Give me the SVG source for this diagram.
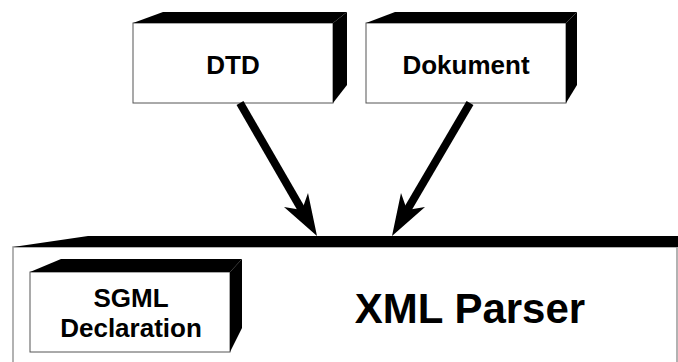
<svg xmlns="http://www.w3.org/2000/svg" width="678" height="362" viewBox="0 0 678 362">
<style>
.front{fill:#fff;stroke:#555;stroke-width:1}
.side{fill:#000;stroke:none}
.big{fill:#fff;stroke:#999;stroke-width:1.5}
.lbl{font-family:"Liberation Sans",Arial,sans-serif;font-weight:bold;font-size:26px;fill:#000;text-anchor:middle}
.title{font-family:"Liberation Sans",Arial,sans-serif;font-weight:bold;font-size:42px;fill:#000;text-anchor:middle}
.shaft{stroke:#000;stroke-width:8;fill:none}
.head{fill:#000;stroke:none}
</style>
<rect width="678" height="362" fill="#fff"/>
<g id="xml-parser">
<rect class="big" x="13" y="247" width="664" height="120"/>
<polygon class="side" points="13,247 88,236 678,236 678,247"/>
<text class="title" x="470" y="323">XML Parser</text>
</g>
<g id="sgml-declaration">
<rect class="front" x="30" y="272" width="200" height="80"/>
<polygon class="side" points="30,272 61,259 242,259 230,272"/>
<polygon class="side" points="230,272 242,259 242,328 230,352"/>
<text class="lbl" x="131" y="307">SGML</text>
<text class="lbl" x="131" y="337">Declaration</text>
</g>
<g id="dtd">
<rect class="front" x="133" y="23" width="200" height="80"/>
<polygon class="side" points="133,23 163,12 347,12 333,23"/>
<polygon class="side" points="333,23 347,12 347,85 333,103"/>
<text class="lbl" x="233" y="74">DTD</text>
</g>
<g id="dokument">
<rect class="front" x="366" y="23" width="200" height="80"/>
<polygon class="side" points="366,23 395,12 577,12 566,23"/>
<polygon class="side" points="566,23 577,12 577,85 566,103"/>
<text class="lbl" x="466" y="74">Dokument</text>
</g>
<g id="connectors">
<line class="shaft" x1="240" y1="103" x2="303" y2="212"/>
<polygon class="head" points="317,236 284,207 302,210 308,193"/>
<line class="shaft" x1="470" y1="103" x2="406" y2="212"/>
<polygon class="head" points="392,236 401,193 407,210 425,207"/>
</g>
</svg>
